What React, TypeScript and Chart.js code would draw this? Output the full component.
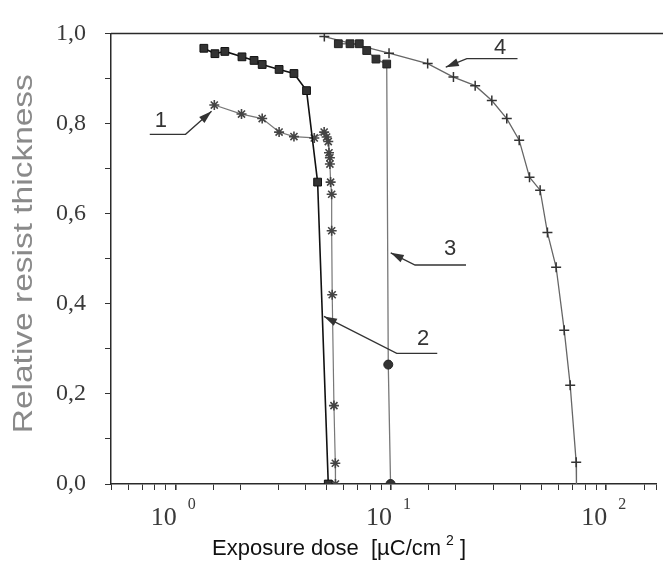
import React, { useEffect, useRef } from 'react';
import { Chart, registerables } from 'chart.js';

Chart.register(...registerables);

// ---- data (dose in µC/cm², relative thickness) ----
const curve1Dose = [1.51, 2.02, 2.52, 3.02, 3.54, 4.4, 4.89, 5.02, 5.11, 5.15, 5.2, 5.2, 5.24, 5.3, 5.3, 5.33, 5.43, 5.51, 5.52];
const curve1Thickness = [0.841, 0.821, 0.811, 0.781, 0.771, 0.768, 0.781, 0.77, 0.76, 0.735, 0.724, 0.71, 0.67, 0.643, 0.562, 0.42, 0.174, 0.046, 0];

const curve2Dose = [1.35, 1.52, 1.69, 2.03, 2.31, 2.52, 3.02, 3.54, 4.05, 4.56, 5.11];
const curve2Thickness = [0.967, 0.955, 0.96, 0.948, 0.94, 0.931, 0.92, 0.911, 0.873, 0.67, 0];

const curve3Dose = [5.69, 6.45, 7.12, 7.71, 8.51, 9.55, 9.71, 9.95];
const curve3Thickness = [0.977, 0.977, 0.977, 0.962, 0.943, 0.932, 0.265, 0];

const curve4Dose = [4.9, 9.79, 14.8, 19.5, 24.6, 29.4, 34.5, 39.4, 44.0, 49.3, 53.3, 58.5, 63.8, 68.0, 72.5, 72.7];
const curve4Thickness = [0.993, 0.956, 0.933, 0.903, 0.884, 0.851, 0.811, 0.763, 0.681, 0.652, 0.558, 0.481, 0.341, 0.219, 0.048, 0];

// ---- axes ----
const xMin = 0.5;
const xMax = 171;
const xTickValues = [1, 10, 100];
const xTickBases = ['10', '10', '10'];
const xTickExponents = ['0', '1', '2'];
const yTickValues = [0, 0.2, 0.4, 0.6, 0.8, 1.0];
const yTickLabels = ['0,0', '0,2', '0,4', '0,6', '0,8', '1,0'];
const xTitleMain = 'Exposure dose  [µC/cm';
const xTitleSup = '2';
const xTitleEnd = ' ]';
const yTitle = 'Relative resist thickness';

// ---- callouts (in data coordinates) ----
const calloutLabels = ['1', '2', '3', '4'];
const calloutTextX = [0.852, 14.1, 18.8, 32.1];
const calloutTextY = [0.805, 0.322, 0.521, 0.967];
const calloutTailX = [0.757, 16.4, 22.3, 38.7];
const calloutElbowX = [1.11, 10.63, 12.93, 22.5];
const calloutLeaderY = [0.776, 0.29, 0.486, 0.944];
const calloutTipX = [1.466, 4.88, 9.97, 17.96];
const calloutTipY = [0.827, 0.372, 0.513, 0.925];

const toPoints = (xs: number[], ys: number[]) => xs.map((x, i) => ({ x, y: ys[i] }));

const framePlugin = {
  id: 'frameAndText',
  afterDraw(chart: any) {
    const { ctx, chartArea, scales } = chart;
    const xs = scales.x;
    const ys = scales.y;
    ctx.save();
    // top frame line
    ctx.strokeStyle = '#2a2a2a';
    ctx.lineWidth = 1.5;
    ctx.beginPath();
    ctx.moveTo(chartArea.left, chartArea.top);
    ctx.lineTo(chart.width, chartArea.top);
    ctx.stroke();

    // x tick labels with superscripts
    ctx.fillStyle = '#3a3a3a';
    ctx.textBaseline = 'middle';
    xTickValues.forEach((v, i) => {
      const px = xs.getPixelForValue(v);
      ctx.font = '26px "Liberation Serif", serif';
      ctx.textAlign = 'right';
      ctx.fillText(xTickBases[i], px + 1, xs.top + 34);
      ctx.font = '16px "Liberation Serif", serif';
      ctx.textAlign = 'left';
      ctx.fillText(xTickExponents[i], px + 12, xs.top + 21);
    });

    // x title
    ctx.fillStyle = '#111';
    ctx.textAlign = 'left';
    ctx.font = '22px "Liberation Sans", Arial, sans-serif';
    const tx = chartArea.left + 101;
    const ty = chart.height - 15;
    ctx.fillText(xTitleMain, tx, ty);
    const w1 = ctx.measureText(xTitleMain).width;
    ctx.font = '14px "Liberation Sans", Arial, sans-serif';
    ctx.fillText(xTitleSup, tx + w1 + 5, ty - 8);
    const w2 = ctx.measureText(xTitleSup).width;
    ctx.font = '22px "Liberation Sans", Arial, sans-serif';
    ctx.fillText(xTitleEnd, tx + w1 + 5 + w2, ty);

    // y title (rotated, slightly elongated like the scanned original)
    ctx.save();
    ctx.translate(25, (chartArea.top + chartArea.bottom) / 2 - 5);
    ctx.rotate(-Math.PI / 2);
    ctx.scale(1.24, 1);
    ctx.fillStyle = '#8a8a8a';
    ctx.font = '27px "Liberation Sans", Arial, sans-serif';
    ctx.textAlign = 'center';
    ctx.textBaseline = 'middle';
    ctx.fillText(yTitle, 0, 0);
    ctx.restore();

    // callouts
    ctx.strokeStyle = '#333';
    ctx.fillStyle = '#333';
    ctx.lineWidth = 1.3;
    calloutLabels.forEach((lab, i) => {
      const tailX = xs.getPixelForValue(calloutTailX[i]);
      const elbowX = xs.getPixelForValue(calloutElbowX[i]);
      const lineY = ys.getPixelForValue(calloutLeaderY[i]);
      const tipX = xs.getPixelForValue(calloutTipX[i]);
      const tipY = ys.getPixelForValue(calloutTipY[i]);
      ctx.beginPath();
      ctx.moveTo(tailX, lineY);
      ctx.lineTo(elbowX, lineY);
      ctx.lineTo(tipX, tipY);
      ctx.stroke();
      const ang = Math.atan2(tipY - lineY, tipX - elbowX);
      const L = 13;
      const W = 4;
      const bx = tipX - L * Math.cos(ang);
      const by = tipY - L * Math.sin(ang);
      ctx.beginPath();
      ctx.moveTo(tipX, tipY);
      ctx.lineTo(bx + W * Math.sin(ang), by - W * Math.cos(ang));
      ctx.lineTo(bx - W * Math.sin(ang), by + W * Math.cos(ang));
      ctx.closePath();
      ctx.fill();
      ctx.font = '22px "Liberation Sans", Arial, sans-serif';
      ctx.textAlign = 'center';
      ctx.textBaseline = 'middle';
      ctx.fillText(lab, xs.getPixelForValue(calloutTextX[i]), ys.getPixelForValue(calloutTextY[i]));
    });
    ctx.restore();
  },
};

export default function App() {
  const canvasRef = useRef<HTMLCanvasElement | null>(null);

  useEffect(() => {
    if (!canvasRef.current) return;
    const chart = new Chart(canvasRef.current, {
      type: 'line',
      data: {
        datasets: [
          {
            label: '2',
            data: toPoints(curve2Dose, curve2Thickness),
            borderColor: '#111',
            borderWidth: 1.6,
            pointStyle: 'rect',
            pointRadius: 5.5,
            pointBackgroundColor: '#333',
            pointBorderColor: '#111',
            pointBorderWidth: 1,
          },
          {
            label: '1',
            data: toPoints(curve1Dose, curve1Thickness),
            borderColor: '#777',
            borderWidth: 1.2,
            pointStyle: 'star',
            pointRadius: 5,
            pointBorderColor: '#444',
            pointBorderWidth: 1.6,
            pointBackgroundColor: '#444',
          },
          {
            label: '3',
            data: toPoints(curve3Dose, curve3Thickness),
            borderColor: '#777',
            borderWidth: 1.3,
            pointStyle: (c: any) => (curve3Thickness[c.dataIndex] < 0.5 ? 'circle' : 'rect'),
            pointRadius: (c: any) => (curve3Thickness[c.dataIndex] < 0.5 ? 4.5 : 5.5),
            pointBackgroundColor: '#333',
            pointBorderColor: '#222',
            pointBorderWidth: 1,
          },
          {
            label: '4',
            data: toPoints(curve4Dose, curve4Thickness),
            borderColor: '#666',
            borderWidth: 1.3,
            pointStyle: 'cross',
            pointRadius: (c: any) => (c.dataIndex === curve4Dose.length - 1 ? 0 : 5),
            pointBorderColor: '#333',
            pointBorderWidth: 1.5,
          },
        ],
      },
      options: {
        animation: false,
        responsive: false,
        maintainAspectRatio: false,
        devicePixelRatio: 1,
        layout: { padding: { top: 32, right: 0, bottom: 0, left: 0 } },
        plugins: { legend: { display: false }, tooltip: { enabled: false } },
        elements: { line: { tension: 0 } },
        scales: {
          x: {
            type: 'logarithmic',
            bounds: 'data',
            min: xMin,
            max: xMax,
            afterFit: (s: any) => {
              s.height = 80;
              s.paddingLeft = 0;
              s.paddingRight = 0;
            },
            border: { display: true, color: '#2a2a2a', width: 1.5 },
            grid: {
              drawOnChartArea: false,
              drawTicks: true,
              tickLength: 6,
              color: '#333',
              lineWidth: (c: any) => {
                const v = c.tick ? c.tick.value : 0;
                return xTickValues.some((t) => Math.abs(t - v) < 1e-9) ? 1.6 : 1;
              },
            },
            ticks: { autoSkip: false, maxRotation: 0, callback: () => '' },
          },
          y: {
            type: 'linear',
            min: 0,
            max: 1,
            afterFit: (s: any) => {
              s.width = 111;
            },
            border: { display: true, color: '#2a2a2a', width: 1.5 },
            grid: { drawOnChartArea: false, drawTicks: true, tickLength: 6, color: '#333' },
            ticks: {
              stepSize: 0.1,
              autoSkip: false,
              padding: 19,
              color: '#3a3a3a',
              font: { family: '"Liberation Serif", serif', size: 24 },
              callback: (v: any) => {
                const idx = yTickValues.findIndex((t) => Math.abs(t - Number(v)) < 1e-6);
                return idx >= 0 ? yTickLabels[idx] : '';
              },
            },
            title: { display: false },
          },
        },
      },
      plugins: [framePlugin],
    } as any);
    return () => chart.destroy();
  }, []);

  return (
    <div style={{ position: 'absolute', left: 0, top: 0, width: 663, height: 564, background: '#fff', overflow: 'hidden' }}>
      <canvas ref={canvasRef} width={663} height={564} style={{ display: 'block', width: 663, height: 564 }} />
    </div>
  );
}
